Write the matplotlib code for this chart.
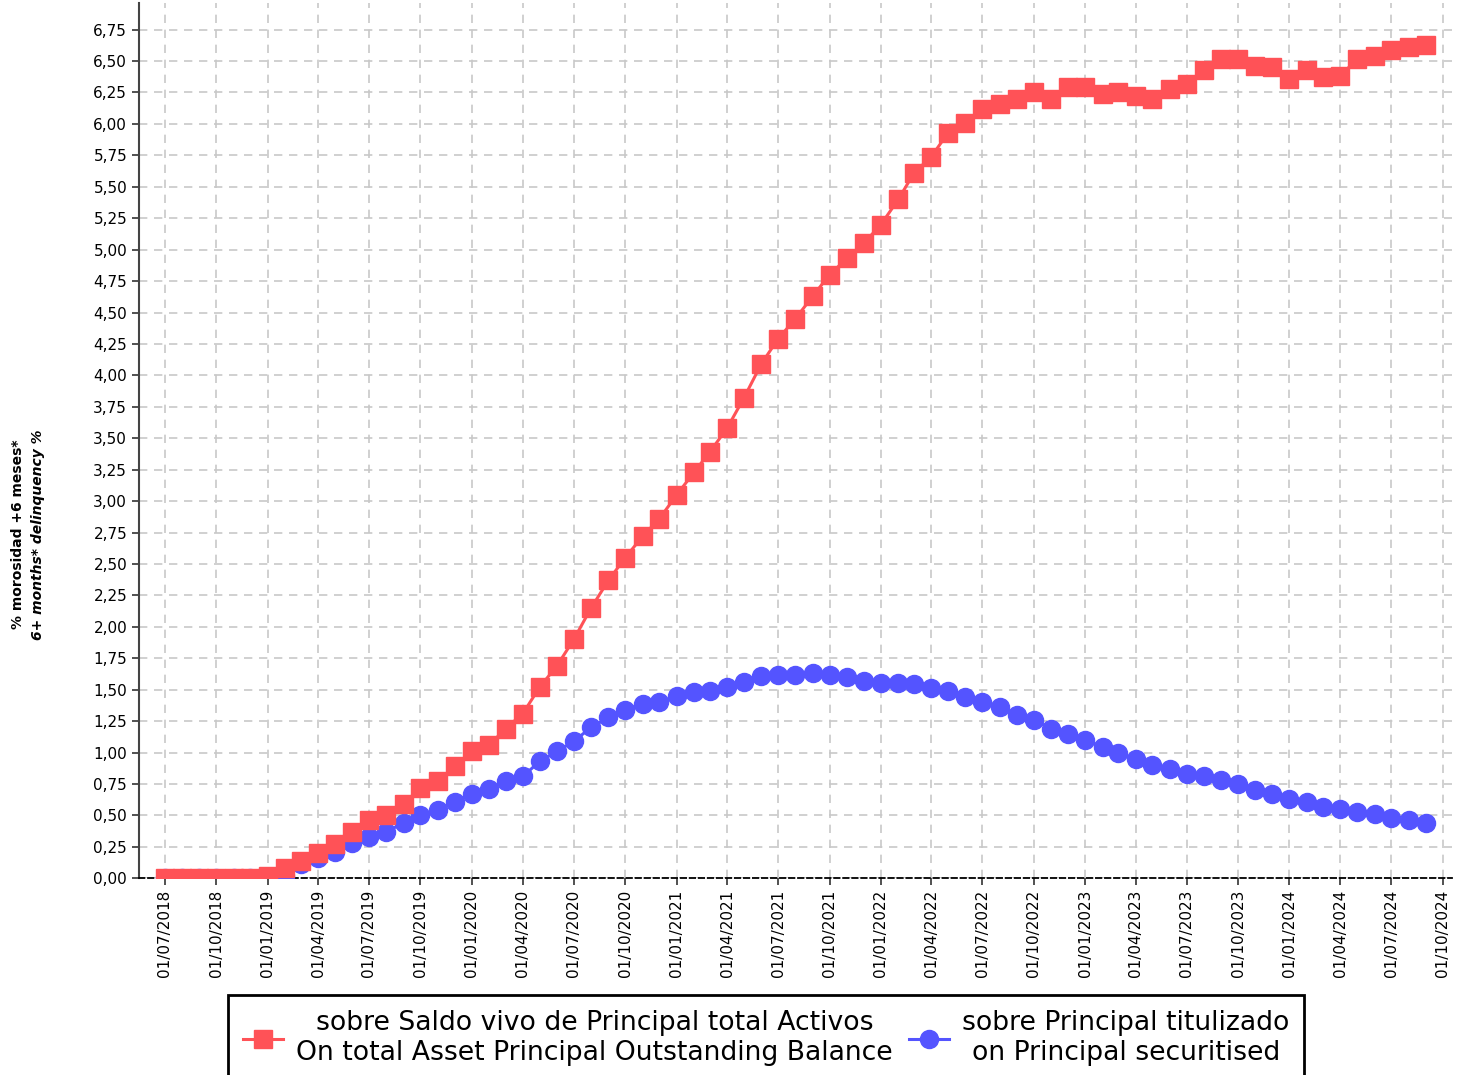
import numpy as np
import pandas as pd
import matplotlib
matplotlib.use("Agg")
import matplotlib.pyplot as plt
import matplotlib.dates as mdates
from matplotlib.ticker import FuncFormatter

# fechas mensuales (01/07/2018 .. 01/09/2024)
fechas = pd.date_range("2018-07-01", periods=75, freq="MS")

# % morosidad +6 meses sobre saldo vivo total activos
total_activos = [
    0.00, 0.00, 0.00, 0.00, 0.00, 0.00, 0.02, 0.08, 0.14, 0.20, 0.27, 0.37,
    0.46, 0.50, 0.59, 0.72, 0.77, 0.89, 1.01, 1.06, 1.19, 1.31, 1.52, 1.69,
    1.90, 2.15, 2.37, 2.55, 2.72, 2.86, 3.05, 3.23, 3.39, 3.58, 3.82, 4.09,
    4.29, 4.45, 4.63, 4.80, 4.93, 5.05, 5.20, 5.40, 5.61, 5.74, 5.93, 6.01,
    6.12, 6.16, 6.20, 6.25, 6.20, 6.29, 6.29, 6.24, 6.25, 6.22, 6.20, 6.28,
    6.32, 6.43, 6.52, 6.52, 6.46, 6.45, 6.36, 6.43, 6.37, 6.38, 6.52, 6.54,
    6.59, 6.61, 6.63,
]

# % morosidad +6 meses sobre principal titulizado
titulizado = [
    0.00, 0.00, 0.00, 0.00, 0.00, 0.00, 0.00, 0.02, 0.11, 0.16, 0.21, 0.28,
    0.33, 0.37, 0.44, 0.50, 0.54, 0.61, 0.67, 0.71, 0.77, 0.81, 0.93, 1.01,
    1.09, 1.20, 1.28, 1.34, 1.39, 1.40, 1.45, 1.48, 1.49, 1.52, 1.56, 1.61,
    1.62, 1.62, 1.63, 1.62, 1.60, 1.57, 1.555, 1.55, 1.545, 1.51, 1.49, 1.44,
    1.40, 1.36, 1.30, 1.26, 1.19, 1.15, 1.10, 1.045, 1.00, 0.945, 0.90, 0.87,
    0.83, 0.81, 0.785, 0.75, 0.705, 0.67, 0.63, 0.61, 0.57, 0.55, 0.53, 0.51,
    0.48, 0.46, 0.44,
]

etiqueta_rojo = "sobre Saldo vivo de Principal total Activos\nOn total Asset Principal Outstanding Balance"
etiqueta_azul = "sobre Principal titulizado\non Principal securitised"

rojo = "#ff5257"
azul = "#5454ff"

fig = plt.figure(figsize=(14.66, 10.75), dpi=100)
ax = fig.add_axes([0.0948, 0.183, 0.8955, 0.814])

ax.plot(fechas, total_activos, "-s", color=rojo, lw=2.2, ms=12.5,
        label=etiqueta_rojo, zorder=4)
ax.plot(fechas, titulizado, "-o", color=azul, lw=2.2, ms=13,
        label=etiqueta_azul, zorder=3)

ax.set_ylim(0, 6.96)
ax.set_yticks(np.arange(0, 6.76, 0.25))
ax.yaxis.set_major_formatter(FuncFormatter(lambda v, p: f"{v:.2f}".replace(".", ",")))

ax.set_xlim(pd.Timestamp("2018-05-16"), pd.Timestamp("2024-10-17"))
ax.xaxis.set_major_locator(mdates.MonthLocator(bymonth=[1, 4, 7, 10]))
ax.xaxis.set_major_formatter(mdates.DateFormatter("%d/%m/%Y"))
plt.setp(ax.get_xticklabels(), rotation=90)

ax.tick_params(labelsize=11, length=5, width=1.2, color="#333333")
ax.grid(True, color="#c8c8c8", linestyle=(0, (5, 4)), linewidth=1.2)
ax.set_axisbelow(True)

for s in ["top", "right"]:
    ax.spines[s].set_visible(False)
ax.spines["left"].set_color("#444444")
ax.spines["left"].set_linewidth(1.5)
ax.spines["bottom"].set_linestyle((0, (3, 2)))
ax.spines["bottom"].set_linewidth(1.3)

fig.text(0.012, 0.503, "% morosidad +6 meses*", rotation=90, ha="center",
         va="center", fontsize=10, fontweight="bold")
fig.text(0.026, 0.503, "6+ months* delinquency %", rotation=90, ha="center",
         va="center", fontsize=10, fontweight="bold", style="italic")

leg = fig.legend(loc="upper center", bbox_to_anchor=(0.5225, 0.0865), ncol=2,
                 fontsize=19.2, frameon=True, fancybox=False, framealpha=1,
                 edgecolor="black", handlelength=1.5, columnspacing=0.6,
                 handletextpad=0.5, borderpad=0.55, markerscale=1.0)
leg.get_frame().set_linewidth(2)
for t in leg.get_texts():
    t.set_multialignment("center")

fig.savefig("out.png", dpi=100)
